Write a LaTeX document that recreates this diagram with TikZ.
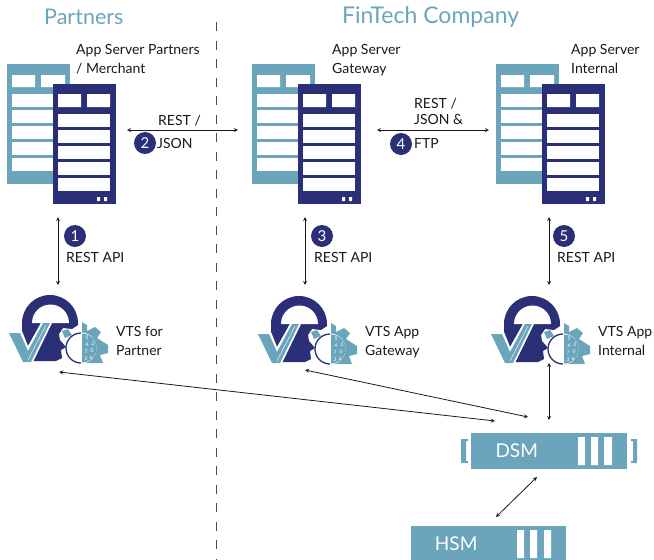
\documentclass[tikz,border=0pt]{standalone}
\usepackage{fontspec}
\setmainfont{Lato}
\usetikzlibrary{arrows}
\definecolor{navy}{HTML}{2B2F77}
\definecolor{teal}{HTML}{6BA5BC}
\tikzstyle{graph}=[x=1pt, y=-1pt, font=\fontsize{14}{15}\selectfont]
\tikzstyle{title}=[anchor=west, inner sep=0pt, text=teal, font=\fontsize{23}{25}\selectfont]
\tikzstyle{lbl}=[anchor=west, inner sep=0pt, text height=10pt, text depth=3pt, yshift=-1pt, text=black!90]
\tikzstyle{num}=[circle, inner sep=0pt, minimum width=22pt, fill=navy, text=white, font=\fontsize{15}{15}\selectfont]
\tikzstyle{edge}=[<->, >=stealth, line width=0.8pt, black!90]
\tikzstyle{box}=[fill=teal, minimum height=36pt, inner sep=0pt, anchor=west, text=white, font=\fontsize{19}{20}\selectfont]
% server icon, origin at the top left of the back panel
\tikzset{
  appserver/.pic={
    \fill[teal] (0,0) rectangle (63,120);
    \fill[white] (5,11) rectangle (28,23) (34,11) rectangle (58,23);
    \foreach \y in {30,46,62,78,94} \fill[white] (5,\y) rectangle (58,\y+13);
    \fill[navy] (46,20) rectangle (109,140);
    \fill[white] (51,30) rectangle (74,43) (80,30) rectangle (103,43);
    \foreach \y in {50,66,82,98,114} \fill[white] (51,\y) rectangle (103,\y+13);
    \fill[white] (90,133) rectangle (93,137) (97,133) rectangle (100,137);
  },
  vtsicon/.pic={
    % lock and head
    \fill[navy] (22,361) -- (22,323) arc[start angle=180, end angle=360, radius=28] -- (78,325) -- (72,329) -- (63,328) -- (59,334) -- (60,340) -- (66,347) -- (61,350) -- (62,358) -- (56,361) -- cycle;
    \fill[white] (32,323) arc[start angle=180, end angle=360, radius=18.5] -- cycle;
    % gear, right half
    \fill[teal] (82,322) -- (87,325) -- (87,331) -- (95,327) -- (101,332) -- (97,338) -- (108,345) -- (108,353) -- (100,355) -- (103,363) -- (82,363) -- cycle;
    \fill[teal] (62,331) -- (68,329) -- (72,335) -- (65,338) -- cycle;
    \fill[white] (81,348) circle (15.5);
    \draw[navy, line width=1.3pt] (81,333) arc[start angle=270, end angle=90, radius=15];
    \fill[teal] (82,333.5) arc[start angle=270, end angle=450, radius=14.5] -- cycle;
    \path[text=white, inner sep=0pt, font=\fontsize{5}{5}\selectfont]
      (87,338) node (d1) {5} (87,345) node (d2) {4} (93,344) node (d3) {2}
      (86,352) node (d4) {7} (92,351) node (d5) {0} (86,359) node (d6) {3} (91,358) node (d7) {6};
    % check mark
    \fill[white] (6,331) -- (22,331) -- (28,346) -- (42,321) -- (53,321) -- (32,364) -- (22,364) -- cycle;
    \fill[teal] (9,333) -- (20,333) -- (28,351) -- (43,323) -- (50,323) -- (31,362) -- (23,362) -- cycle;
    \draw[white, thin] (28,360) -- (46,325);
  }
}

\begin{document}
\begin{tikzpicture}[graph]
	\useasboundingbox (0,0) rectangle (654,560);
	\draw (44,17) node[title, font=\fontsize{21.5}{25}\selectfont] (partners) {Partners};
	\draw (342,17) node[title] (fintech) {FinTech Company};
	\draw[black!70, dash pattern=on 9pt off 9.5pt] (216,22) -- (216,560);

	\pic (srvA) at (7,64) {appserver};
	\pic (srvB) at (252,64) {appserver};
	\pic (srvC) at (496,64) {appserver};
	\pic (vtsA) at (0,0) {vtsicon};
	\pic (vtsB) at (249,1) {vtsicon};
	\pic (vtsC) at (482,1) {vtsicon};

	\draw (76,50) node[lbl] (srvAa) {App Server Partners};
	\draw (76,69) node[lbl] (srvAb) {/ Merchant};
	\draw (332,50) node[lbl] (srvBa) {App Server};
	\draw (332,69) node[lbl] (srvBb) {Gateway};
	\draw (571,50) node[lbl] (srvCa) {App Server};
	\draw (571,69) node[lbl] (srvCb) {Internal};
	\draw (116,332) node[lbl] (vtsAa) {VTS for};
	\draw (116,351) node[lbl] (vtsAb) {Partner};
	\draw (365,332) node[lbl] (vtsBa) {VTS App};
	\draw (365,351) node[lbl] (vtsBb) {Gateway};
	\draw (598,332) node[lbl] (vtsCa) {VTS App};
	\draw (598,351) node[lbl] (vtsCb) {Internal};

	\draw (75,236) node[num] (n1) {1};
	\draw (145,143) node[num] (n2) {2};
	\draw (322,236) node[num] (n3) {3};
	\draw (401,144) node[num] (n4) {4};
	\draw (564,236) node[num] (n5) {5};
	\draw (66,258) node[lbl] (apiA) {REST API};
	\draw (314,258) node[lbl] (apiB) {REST API};
	\draw (557,258) node[lbl] (apiC) {REST API};
	\draw (158,121) node[lbl] (restA) {REST /};
	\draw (157,144) node[lbl] (jsonA) {JSON};
	\draw (414,104) node[lbl] (restB) {REST /};
	\draw (414,120) node[lbl] (jsonB) {JSON \&};
	\draw (414,144) node[lbl] (ftpB) {FTP};

	\draw (471,451) node[box, minimum width=156pt] (dsm) {\hspace*{-65pt}DSM};
	\draw (411,544) node[box, minimum width=155pt] (hsm) {\hspace*{-65pt}HSM};
	\fill[white] (578,437) rectangle (585,465) (591,437) rectangle (598,465) (604,437) rectangle (612,465);
	\fill[white] (517,530) rectangle (524,558) (530,530) rectangle (537,558) (544,530) rectangle (551,558);
	\fill[teal] (468,439) -- (461,439) -- (461,463) -- (468,463) -- (468,461) -- (466,461) -- (466,441) -- (468,441) -- cycle;
	\fill[teal] (631,439) -- (637,439) -- (637,463) -- (631,463) -- (631,461) -- (633,461) -- (633,441) -- (631,441) -- cycle;

	\coordinate (a1) at (127,130);
	\coordinate (a2) at (238,130);
	\coordinate (b1) at (377,130);
	\coordinate (b2) at (489,130);
	\coordinate (c1) at (58,217);
	\coordinate (c2) at (58,285);
	\coordinate (d1) at (305,217);
	\coordinate (d2) at (305,285);
	\coordinate (e1) at (549,217);
	\coordinate (e2) at (549,285);
	\coordinate (f1) at (59,372);
	\coordinate (f2) at (495,421);
	\coordinate (g1) at (305,370);
	\coordinate (g2) at (528,417);
	\coordinate (h1) at (549,363);
	\coordinate (h2) at (549,420);
	\coordinate (i1) at (537,477);
	\coordinate (i2) at (496,517);
	\draw[edge] (a1) -- (a2);
	\draw[edge] (b1) -- (b2);
	\draw[edge] (c1) -- (c2);
	\draw[edge] (d1) -- (d2);
	\draw[edge] (e1) -- (e2);
	\draw[edge] (f1) -- (f2);
	\draw[edge] (g1) -- (g2);
	\draw[edge] (h1) -- (h2);
	\draw[edge] (i1) -- (i2);
\end{tikzpicture}
\end{document}
